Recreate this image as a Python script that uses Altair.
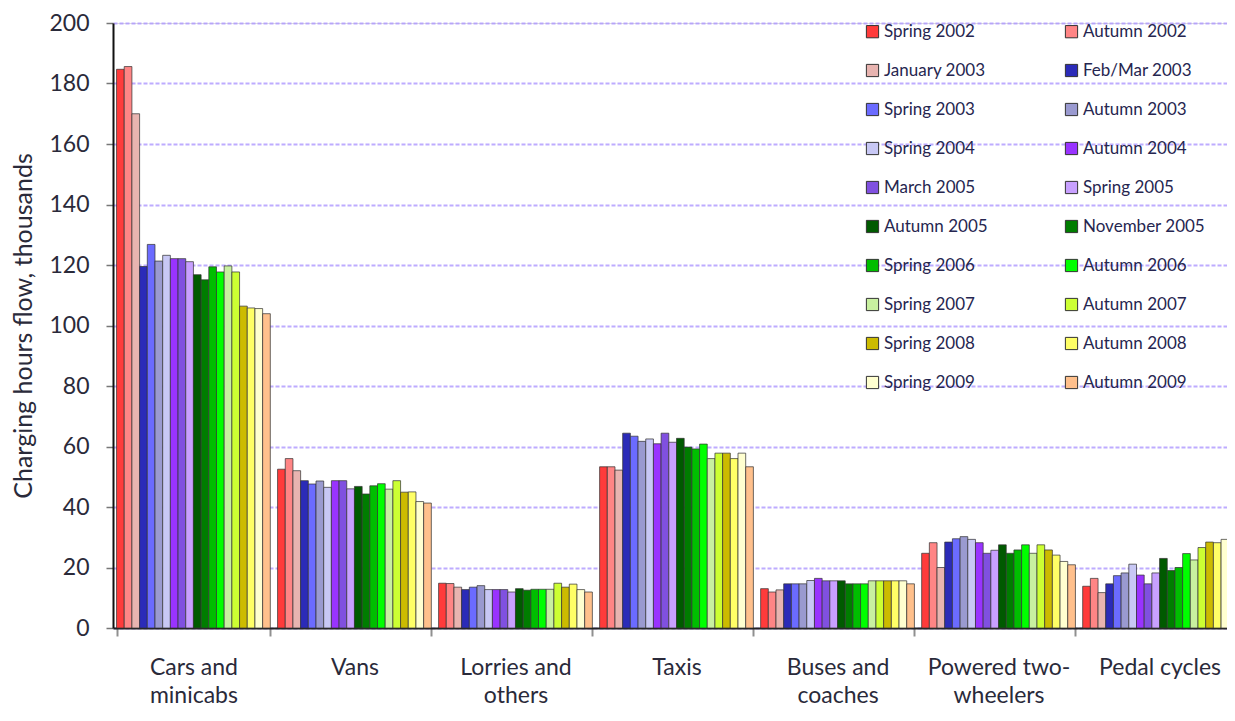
import altair as alt
import pandas as pd

categories = [
    "Cars and\nminicabs", "Vans", "Lorries and\nothers", "Taxis",
    "Buses and\ncoaches", "Powered two-\nwheelers", "Pedal cycles",
]

surveys = [
    "Spring 2002", "Autumn 2002", "January 2003", "Feb/Mar 2003",
    "Spring 2003", "Autumn 2003", "Spring 2004", "Autumn 2004",
    "March 2005", "Spring 2005", "Autumn 2005", "November 2005",
    "Spring 2006", "Autumn 2006", "Spring 2007", "Autumn 2007",
    "Spring 2008", "Autumn 2008", "Spring 2009", "Autumn 2009",
]

survey_colors = [
    "#FF3B3B", "#FF8585", "#E8B4B0", "#2B2BB8",
    "#6B6BFF", "#9A9AD0", "#C8C8F5", "#9933FF",
    "#8050E0", "#C8A0FF", "#005A00", "#007D00",
    "#00BE00", "#00FF00", "#C8F0A0", "#CCFF33",
    "#CCBB00", "#FFFF66", "#FFFFD0", "#FFC08C",
]

cars = [184.7, 185.6, 170.0, 119.5, 126.8, 121.3, 123.2, 122.1, 122.1, 121.1,
        116.8, 115.1, 119.4, 117.7, 119.7, 117.7, 106.4, 105.8, 105.6, 103.9]
vans = [52.5, 56.0, 52.0, 48.7, 47.6, 48.6, 46.5, 48.7, 48.7, 46.0,
        46.8, 44.3, 47.0, 47.7, 45.9, 48.7, 44.9, 45.0, 41.8, 41.3]
lorries = [14.8, 14.7, 13.5, 12.7, 13.5, 14.0, 12.7, 12.7, 12.7, 11.9,
           13.0, 12.5, 12.8, 12.8, 12.8, 14.8, 13.5, 14.5, 12.7, 11.9]
taxis = [53.3, 53.3, 52.2, 64.4, 63.4, 61.7, 62.5, 60.9, 64.4, 61.4,
         62.7, 59.8, 59.2, 60.8, 56.0, 57.8, 57.8, 56.0, 57.8, 53.3]
buses = [13.0, 11.9, 12.6, 14.6, 14.6, 14.6, 15.7, 16.4, 15.6, 15.6,
         15.6, 14.6, 14.6, 14.6, 15.6, 15.6, 15.6, 15.6, 15.6, 14.6]
two_wheelers = [24.7, 28.2, 20.0, 28.4, 29.5, 30.2, 29.3, 28.2, 24.7, 25.7,
                27.5, 24.7, 25.8, 27.5, 24.7, 27.5, 25.8, 24.1, 22.0, 20.9]
pedal_cycles = [13.8, 16.4, 11.7, 14.6, 17.3, 18.2, 21.1, 17.5, 14.6, 18.2,
                23.0, 19.0, 20.0, 24.6, 22.5, 26.6, 28.4, 28.2, 29.3, 29.5]

series_by_category = [cars, vans, lorries, taxis, buses, two_wheelers, pedal_cycles]

rows = []
for cat, vals in zip(categories, series_by_category):
    for s, v in zip(surveys, vals):
        rows.append({"category": cat, "survey": s, "flow": v})
df = pd.DataFrame(rows)

FONT = "Lato"

chart = alt.Chart(df).mark_bar(
    stroke="#333333", strokeWidth=0.9, strokeOpacity=0.8
).encode(
    x=alt.X(
        "category:N",
        sort=categories,
        scale=alt.Scale(paddingInner=0.045, paddingOuter=0.022, range=[0, 1127]),
        axis=alt.Axis(
            title=None,
            labelAngle=0,
            labelExpr="split(datum.label, '\\n')",
            labelFont=FONT,
            labelFontSize=23,
            labelLineHeight=28,
            labelColor="#2a2a3a",
            labelPadding=20,
            tickBand="extent",
            tickSize=8,
            tickColor="#909090",
            tickWidth=2,
            domainColor="#222222",
            domainWidth=2,
            grid=False,
        ),
    ),
    xOffset=alt.XOffset("survey:N", sort=surveys),
    y=alt.Y(
        "flow:Q",
        scale=alt.Scale(domain=[0, 200], nice=False),
        axis=alt.Axis(
            title="Charging hours flow, thousands",
            titleFont=FONT,
            titleFontSize=25,
            titleFontWeight="normal",
            titleColor="#2a2a3a",
            titlePadding=12,
            values=list(range(0, 201, 20)),
            labelFont=FONT,
            labelFontSize=23,
            labelColor="#2a2a3a",
            labelPadding=17,
            tickSize=7,
            tickColor="#777777",
            tickWidth=1.5,
            domainColor="#111111",
            domainWidth=2,
            gridColor="#A890FF",
            gridWidth=2,
            gridDash=[4, 2],
            gridOpacity=0.75,
        ),
    ),
    color=alt.Color(
        "survey:N",
        sort=surveys,
        scale=alt.Scale(domain=surveys, range=survey_colors),
        legend=alt.Legend(
            title=None,
            orient="none",
            direction="horizontal",
            legendX=751,
            legendY=0,
            columns=2,
            columnPadding=75,
            rowPadding=21,
            symbolType="square",
            symbolSize=150,
            symbolStrokeColor="#333333",
            symbolStrokeWidth=1,
            labelFont=FONT,
            labelFontSize=17,
            labelColor="#262650",
            labelOffset=3,
            labelLimit=200,
        ),
    ),
).properties(
    width=1114,
    height=605,
    autosize="none",
    padding={"left": 105, "top": 15, "right": 0, "bottom": 80},
).configure_view(stroke=None).configure(background="white")

chart.save("out.html", embed_options={"renderer": "svg", "actions": False})
